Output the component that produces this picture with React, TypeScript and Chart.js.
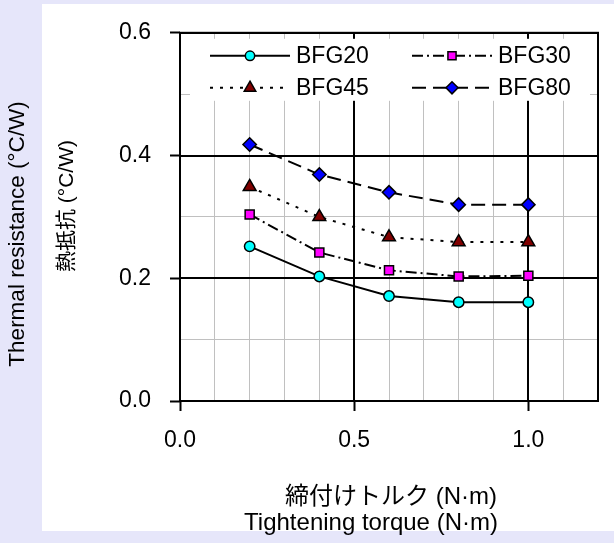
import React, { useEffect, useRef } from "react";
import { Chart, registerables } from "chart.js";

Chart.register(...registerables);

// ---- data ----
const torque = [0.2, 0.4, 0.6, 0.8, 1.0];
const seriesNames = ["BFG20", "BFG30", "BFG45", "BFG80"];
const bfg20 = [0.252, 0.203, 0.171, 0.161, 0.161];
const bfg30 = [0.304, 0.242, 0.213, 0.203, 0.204];
const bfg45 = [0.349, 0.3, 0.267, 0.259, 0.259];
const bfg80 = [0.418, 0.369, 0.34, 0.32, 0.32];
const seriesValues = [bfg20, bfg30, bfg45, bfg80];
const xTickLabels = ["0.0", "0.5", "1.0"];
const yTickLabels = ["0.0", "0.2", "0.4", "0.6"];
const yTitleJa = "熱抵抗 (°C/W)";
const yTitleEn = "Thermal resistance (°C/W)";
const xTitleJa = "締付けトルク (N·m)";
const xTitleEn = "Tightening torque (N·m)";

// ---- styles ----
const FONT = '"Liberation Sans", Arial, "Noto Sans CJK JP", sans-serif';
const styles = [
  { color: "#00FFFF", point: "circle", r: 5.2, dash: [] as number[] },
  { color: "#FF00FF", point: "rect", r: 6.4, dash: [11, 4, 2, 4] },
  { color: "#800000", point: "triangle", r: 7.4, dash: [3, 7] },
  { color: "#0000FF", point: "rectRot", r: 6.7, dash: [14, 7] },
];

const near = (v: number, step: number) =>
  Math.abs(v / step - Math.round(v / step)) < 1e-6;
const findLabel = (labels: string[], v: number) =>
  labels.find((l) => Math.abs(parseFloat(l) - v) < 1e-6) ?? "";

function drawMarker(ctx: CanvasRenderingContext2D, kind: string, x: number, y: number, r: number, fill: string) {
  ctx.beginPath();
  if (kind === "circle") {
    ctx.arc(x, y, r, 0, Math.PI * 2);
  } else if (kind === "rect") {
    const s = r * Math.SQRT1_2;
    ctx.rect(x - s, y - s, 2 * s, 2 * s);
  } else if (kind === "triangle") {
    ctx.moveTo(x, y - r);
    ctx.lineTo(x + r * 0.866, y + r * 0.5);
    ctx.lineTo(x - r * 0.866, y + r * 0.5);
    ctx.closePath();
  } else {
    ctx.moveTo(x, y - r);
    ctx.lineTo(x + r, y);
    ctx.lineTo(x, y + r);
    ctx.lineTo(x - r, y);
    ctx.closePath();
  }
  ctx.setLineDash([]);
  ctx.fillStyle = fill;
  ctx.fill();
  ctx.lineWidth = 1.5;
  ctx.strokeStyle = "#000";
  ctx.stroke();
}

const decorPlugin = {
  id: "decor",
  beforeDatasetsDraw(chart: any) {
    const { ctx, chartArea: a, scales } = chart;
    ctx.save();
    ctx.strokeStyle = "#000";
    ctx.lineWidth = 2;
    ctx.setLineDash([]);
    for (const t of scales.x.ticks) {
      if (near(t.value, 0.5)) {
        const px = Math.round(scales.x.getPixelForValue(t.value));
        ctx.beginPath();
        ctx.moveTo(px, a.top);
        ctx.lineTo(px, a.bottom);
        ctx.stroke();
      }
    }
    for (const t of scales.y.ticks) {
      if (near(t.value, 0.2)) {
        const py = Math.round(scales.y.getPixelForValue(t.value));
        ctx.beginPath();
        ctx.moveTo(a.left, py);
        ctx.lineTo(a.right, py);
        ctx.stroke();
      }
    }
    ctx.strokeRect(a.left, a.top, a.right - a.left, a.bottom - a.top);
    ctx.restore();
  },
  afterDatasetsDraw(chart: any) {
    const { ctx, chartArea: a } = chart;
    ctx.save();
    ctx.fillStyle = "#fff";
    ctx.fillRect(a.left + 10, a.top + 6, 400, 62);
    seriesNames.forEach((name, i) => {
      const st = styles[i];
      const col = i % 2;
      const row = Math.floor(i / 2);
      const x0 = a.left + 30 + col * 202;
      const y = a.top + 23 + row * 32;
      ctx.beginPath();
      ctx.setLineDash(st.dash);
      ctx.strokeStyle = "#000";
      ctx.lineWidth = 2;
      ctx.moveTo(x0, y);
      ctx.lineTo(x0 + 80, y);
      ctx.stroke();
      drawMarker(ctx, st.point, x0 + 40, y, st.r * 0.9, st.color);
      ctx.fillStyle = "#000";
      ctx.font = `23px ${FONT}`;
      ctx.textAlign = "left";
      ctx.textBaseline = "middle";
      ctx.fillText(name, x0 + 86, y + 1);
    });
    ctx.restore();
  },
  afterDraw(chart: any) {
    const { ctx } = chart;
    ctx.save();
    ctx.fillStyle = "#000";
    ctx.textAlign = "center";
    ctx.textBaseline = "middle";
    // y titles
    ctx.save();
    ctx.translate(67, 206);
    ctx.rotate(-Math.PI / 2);
    ctx.font = `21px ${FONT}`;
    ctx.fillText(yTitleJa, 0, 0);
    ctx.restore();
    ctx.save();
    ctx.translate(18, 234);
    ctx.rotate(-Math.PI / 2);
    ctx.font = `22.5px ${FONT}`;
    ctx.fillText(yTitleEn, 0, 0);
    ctx.restore();
    // x titles
    ctx.font = `24px ${FONT}`;
    ctx.fillText(xTitleJa, 391, 497);
    ctx.fillText(xTitleEn, 371, 523);
    ctx.restore();
  },
};

export default function App() {
  const ref = useRef<HTMLCanvasElement>(null);
  useEffect(() => {
    const canvas = ref.current!;
    const gridColor = (step: number) => (c: any) =>
      c.tick && near(c.tick.value, step) ? "#000" : "#C0C0C0";
    const tickColor = (step: number) => (c: any) =>
      c.tick && near(c.tick.value, step) ? "#000" : "rgba(0,0,0,0)";
    const chart = new Chart(canvas, {
      type: "line",
      data: {
        datasets: seriesValues.map((vals, i) => ({
          label: seriesNames[i],
          data: torque.map((x, j) => ({ x, y: vals[j] })),
          borderColor: "#000",
          borderWidth: 2,
          borderDash: styles[i].dash,
          pointStyle: styles[i].point as any,
          pointRadius: styles[i].r,
          pointBackgroundColor: styles[i].color,
          pointBorderColor: "#000",
          pointBorderWidth: 1.5,
          tension: 0,
          fill: false,
        })),
      },
      options: {
        responsive: false,
        maintainAspectRatio: false,
        animation: false,
        layout: { padding: { top: 30, right: 14, left: 0, bottom: 0 } },
        plugins: { legend: { display: false }, tooltip: { enabled: false } },
        scales: {
          x: {
            type: "linear",
            min: 0,
            max: 1.2,
            afterFit: (s: any) => {
              s.height = 142;
            },
            border: { display: false },
            grid: {
              color: gridColor(0.5),
              lineWidth: 1,
              tickColor: tickColor(0.5),
              tickWidth: 2,
              tickLength: 10,
            },
            ticks: {
              stepSize: 0.1,
              autoSkip: false,
              maxRotation: 0,
              padding: 16,
              color: "#000",
              font: { family: FONT, size: 23 },
              callback: (v: any) => findLabel(xTickLabels, Number(v)),
            },
          },
          y: {
            type: "linear",
            min: 0,
            max: 0.6,
            afterFit: (s: any) => {
              s.width = 180;
            },
            border: { display: false },
            grid: {
              color: gridColor(0.2),
              lineWidth: 1,
              tickColor: tickColor(0.2),
              tickWidth: 2,
              tickLength: 10,
            },
            ticks: {
              stepSize: 0.1,
              autoSkip: false,
              padding: 19,
              color: "#000",
              font: { family: FONT, size: 23 },
              callback: (v: any) => findLabel(yTickLabels, Number(v)),
            },
          },
        },
      },
      plugins: [decorPlugin],
    } as any);
    return () => chart.destroy();
  }, []);
  return (
    <div
      style={{
        position: "absolute",
        left: 0,
        top: 0,
        width: 614,
        height: 543,
        background: "#E6E6FA",
        overflow: "hidden",
      }}
    >
      <div
        style={{
          position: "absolute",
          left: 42,
          top: 4,
          width: 572,
          height: 527,
          background: "#FFFFFF",
        }}
      />
      <canvas
        ref={ref}
        width={614}
        height={543}
        style={{ position: "absolute", left: 0, top: 0, width: 614, height: 543 }}
      />
    </div>
  );
}
